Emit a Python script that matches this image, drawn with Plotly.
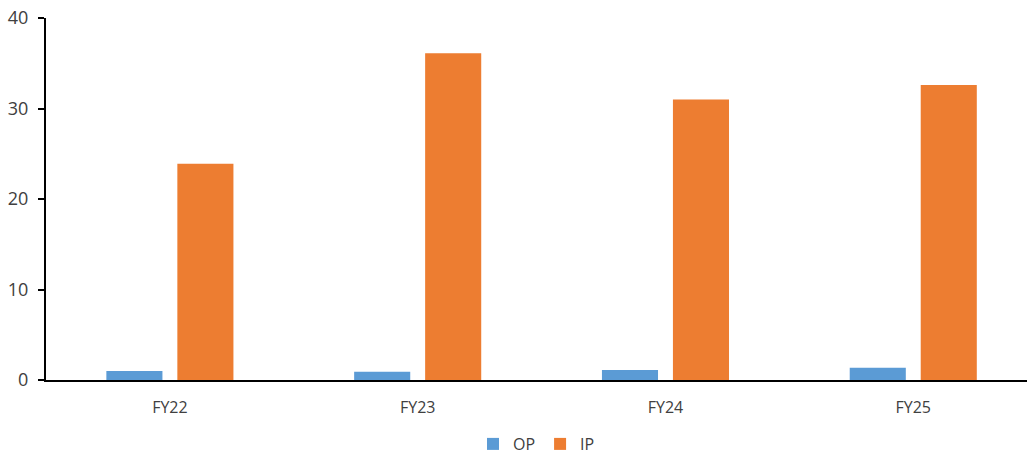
import plotly.graph_objects as go

categories = ["FY22", "FY23", "FY24", "FY25"]
op_values = [1.0, 0.9, 1.1, 1.35]
ip_values = [23.9, 36.1, 31.0, 32.6]
y_ticks = [0, 10, 20, 30, 40]

font_family = "Open Sans, Liberation Sans, sans-serif"
text_color = "#404040"

fig = go.Figure()
fig.add_trace(go.Bar(name="OP", x=categories, y=op_values,
                     marker=dict(color="#5B9BD5", line=dict(width=0))))
fig.add_trace(go.Bar(name="IP", x=categories, y=ip_values,
                     marker=dict(color="#ED7D31", line=dict(width=0))))

fig.update_layout(
    width=1027, height=461,
    margin=dict(l=46, r=0, t=18, b=81),
    paper_bgcolor="white", plot_bgcolor="white",
    barmode="group", bargap=0.427, bargroupgap=0.21,
    font=dict(family=font_family, size=16, color=text_color),
    showlegend=True,
    legend=dict(orientation="h", x=0.5, xanchor="center",
                yref="container", y=0.0, yanchor="bottom",
                font=dict(size=16, color=text_color),
                itemwidth=30, traceorder="normal"),
)
# the last category band runs slightly past the right edge of the page
fig.update_xaxes(range=[-0.5, 3.459], showline=True, linecolor="black",
                 linewidth=2, showgrid=False, ticks="",
                 ticklabelstandoff=12, tickfont=dict(size=16))
fig.update_yaxes(range=[0, 40], tickvals=y_ticks, showline=True,
                 linecolor="black", linewidth=2, showgrid=False,
                 zeroline=False, ticks="outside", ticklen=6,
                 tickcolor="black", tickwidth=2, ticklabelstandoff=6,
                 tickfont=dict(size=18))

fig.write_html("out.html")
